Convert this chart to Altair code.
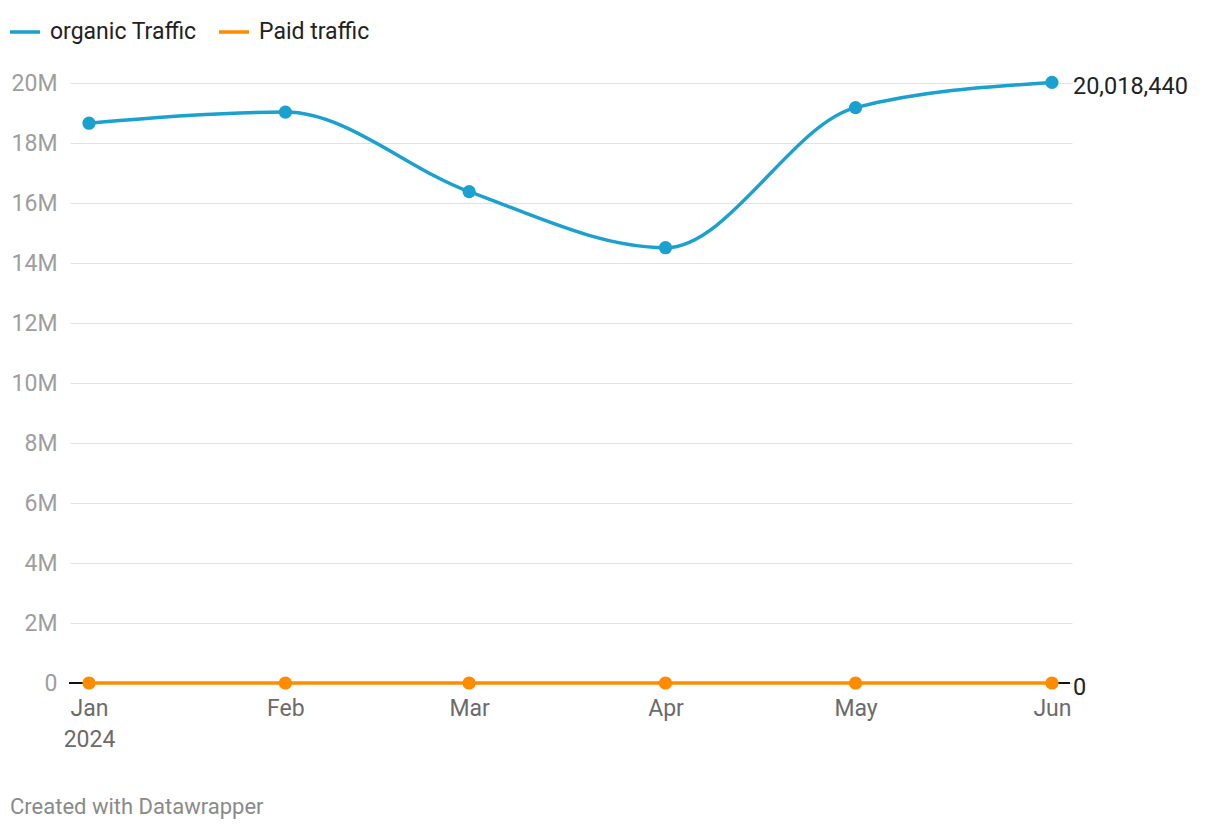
import altair as alt
import pandas as pd

months = ["2024-01-01", "2024-02-01", "2024-03-01", "2024-04-01", "2024-05-01", "2024-06-01"]
organic = [18660000, 19030000, 16380000, 14510000, 19180000, 20018440]
paid = [0, 0, 0, 0, 0, 0]
series_names = ["organic Traffic", "Paid traffic"]
series_colors = ["#1aa1cf", "#ff8c00"]
y_ticks = [0, 2e6, 4e6, 6e6, 8e6, 10e6, 12e6, 14e6, 16e6, 18e6, 20e6]

rows = []
for m, v in zip(months, organic):
    rows.append({"date": m, "value": v, "series": series_names[0]})
for m, v in zip(months, paid):
    rows.append({"date": m, "value": v, "series": series_names[1]})
df = pd.DataFrame(rows)

end_df = pd.DataFrame({
    "date": [months[-1], months[-1]],
    "value": [organic[-1], paid[-1]],
    "series": series_names,
})

FONT = "Roboto"
FS = 23

x_scale = alt.Scale(
    type="utc",
    domain=[alt.DateTime(year=2023, month=12, date=29, utc=True),
            alt.DateTime(year=2024, month=6, date=4, hours=4, utc=True)],
    nice=False,
)
y_scale = alt.Scale(domain=[0, 20e6], nice=False)
color_scale = alt.Scale(domain=series_names, range=series_colors)

x_enc = alt.X(
    "date:T",
    scale=x_scale,
    axis=alt.Axis(
        title=None,
        values=[alt.DateTime(year=2024, month=i, date=1, utc=True) for i in range(1, 7)],
        labelExpr="utcmonth(datum.value)==0 ? [utcFormat(datum.value,'%b'), utcFormat(datum.value,'%Y')] : utcFormat(datum.value,'%b')",
        grid=False, domain=False, ticks=False,
        labelFontSize=FS, labelColor="#6b6b6b", labelFont=FONT,
        labelPadding=14, labelLineHeight=31, labelFlush=False,
    ),
)
y_enc = alt.Y(
    "value:Q",
    scale=y_scale,
    axis=alt.Axis(
        title=None, values=y_ticks,
        labelExpr="datum.value == 0 ? '0' : format(datum.value/1e6, 'd') + 'M'",
        grid=True, gridColor="#e2e2e2", gridWidth=1,
        domain=False, ticks=False,
        labelFontSize=FS, labelColor="#9e9e9e", labelFont=FONT,
        labelPadding=13,
    ),
)
color_enc = alt.Color(
    "series:N", scale=color_scale,
    legend=alt.Legend(
        title=None, orient="none", legendX=-62, legendY=-68,
        direction="horizontal", symbolType="stroke", symbolStrokeWidth=3.5,
        symbolSize=900, labelFontSize=FS, labelColor="#222222", labelFont=FONT,
        columnPadding=15, labelOffset=8, symbolOpacity=1,
    ),
)

base = alt.Chart(df)

zero_rule = alt.Chart(pd.DataFrame({"z": [0]})).mark_rule(color="#111111", strokeWidth=2).encode(
    y=alt.Y("z:Q", scale=y_scale), x=alt.value(-1), x2=alt.value(1000)
)

lines = base.mark_line(interpolate="monotone", strokeWidth=3.5).encode(
    x=x_enc, y=y_enc, color=color_enc
)
points = base.mark_point(filled=True, size=175, opacity=1).encode(
    x="date:T", y="value:Q",
    color=alt.Color("series:N", scale=color_scale, legend=None),
)
end_labels = alt.Chart(end_df).mark_text(
    align="left", baseline="middle", dx=21, dy=5, fontSize=23.5, font=FONT, color="#222222"
).encode(
    x="date:T", y="value:Q", text=alt.Text("value:Q", format=",")
)
credit = alt.Chart(pd.DataFrame({"t": ["Created with Datawrapper"]})).mark_text(
    align="left", baseline="alphabetic", fontSize=22, font=FONT, color="#8a8a8a"
).encode(x=alt.value(-60), y=alt.value(731), text="t:N")

chart = alt.layer(zero_rule, lines, points, end_labels, credit).properties(
    width=1002, height=600,
    autosize=alt.AutoSizeParams(type="none"),
    padding={"left": 62, "top": 75, "right": 140, "bottom": 147},
).configure(font=FONT).configure_view(stroke=None)

chart.save("out.html", embed_options={"renderer": "svg", "actions": False})
